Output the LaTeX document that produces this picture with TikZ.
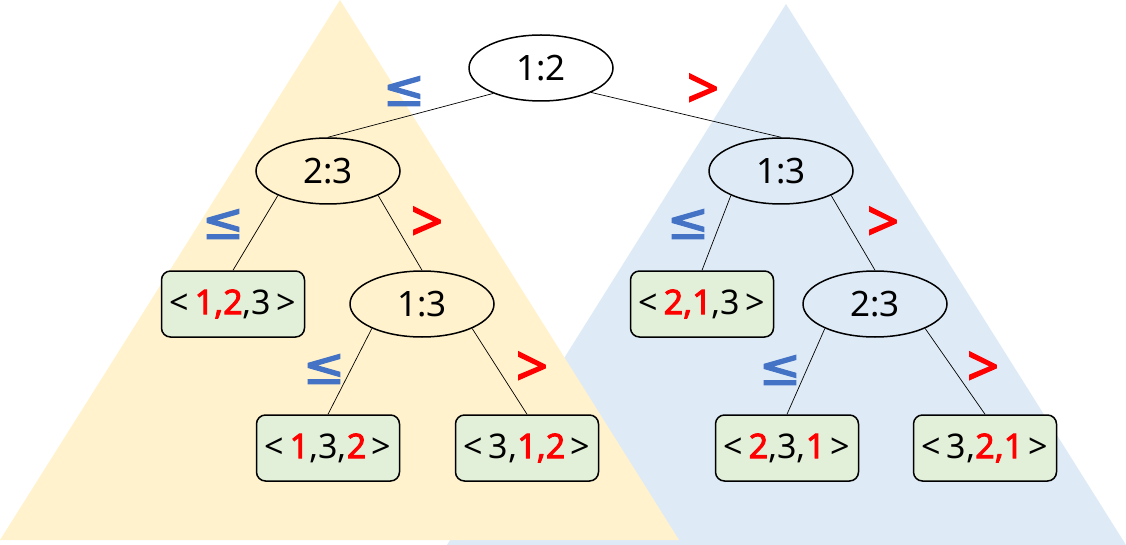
\documentclass[tikz,border=0pt]{standalone}
\usepackage{fontspec}
\setmainfont{Noto Sans}[BoldFont={Noto Sans}, BoldFeatures={FakeBold=2.5}]
\newfontfamily\symfont{DejaVu Sans}[BoldFont={DejaVu Sans}, BoldFeatures={FakeBold=2}]
\usetikzlibrary{shapes.geometric}
\definecolor{triyellow}{HTML}{FFF2CC}
\definecolor{triblue}{HTML}{DEEBF7}
\definecolor{leafgreen}{HTML}{E2F0D9}
\definecolor{leblue}{HTML}{4472C4}
\begin{document}
\begin{tikzpicture}[x=1pt,y=-1pt,
  cmp/.style={ellipse, draw, line width=1.5pt, minimum width=144pt, minimum height=66pt, inner sep=0pt, font=\fontsize{35}{40}\selectfont},
  leaf/.style={rectangle, rounded corners=9pt, draw, line width=1.5pt, fill=leafgreen, minimum width=143pt, minimum height=66pt, inner sep=0pt, font=\fontsize{34}{40}\selectfont},
  edge/.style={line width=0.7pt},
  lelab/.style={text=leblue, inner sep=0pt, font=\symfont\bfseries\fontsize{51}{56}\selectfont},
  gtlab/.style={text=red, inner sep=0pt, font=\bfseries\fontsize{56}{60}\selectfont}]
\newcommand{\rd}[1]{\textcolor{red}{\bfseries #1}}
\useasboundingbox (0,0) rectangle (1126,545);
\fill[triblue] (786,4) -- (447,545) -- (1126,545) -- cycle;
\fill[triyellow] (340,0) -- (0,540) -- (679,540) -- cycle;
% comparison nodes
\node[cmp] (r) at (541,68) {1:2};
\node[cmp] (la) at (328,171) {2:3};
\node[cmp] (ra) at (781,171) {1:3};
\node[cmp] (lb) at (422,304) {1:3};
\node[cmp] (rb) at (875,304) {2:3};
% leaves
\node[leaf] (l123) at (233,304) {<\,\rd{1,2},3\,>};
\node[leaf] (l132) at (328,448) {<\,\rd{1},3,\rd{2}\,>};
\node[leaf] (l312) at (527,448) {<\,3,\rd{1,2}\,>};
\node[leaf] (l213) at (702,304) {<\,\rd{2,1},3\,>};
\node[leaf] (l231) at (787,448) {<\,\rd{2},3,\rd{1}\,>};
\node[leaf] (l321) at (985,448) {<\,3,\rd{2,1}\,>};
% edges
\draw[edge] (r.208) -- (la.north);
\draw[edge] (r.334) -- (ra.north);
\draw[edge] (la.206) -- (l123.north);
\draw[edge] (la.334) -- (lb.north);
\draw[edge] (lb.206) -- (l132.north);
\draw[edge] (lb.334) -- (l312.north);
\draw[edge] (ra.206) -- (l213.north);
\draw[edge] (ra.334) -- (rb.north);
\draw[edge] (rb.206) -- (l231.north);
\draw[edge] (rb.334) -- (l321.north);
% labels
\node[lelab] (le1) at (404,91) {≤};
\node[gtlab] (gt1) at (703,91) {>};
\node[lelab] (le2) at (223,224) {≤};
\node[gtlab] (gt2) at (427,224) {>};
\node[lelab] (le3) at (324,369) {≤};
\node[gtlab] (gt3) at (532,369) {>};
\node[lelab] (le4) at (688,224) {≤};
\node[gtlab] (gt4) at (883,224) {>};
\node[lelab] (le5) at (780,370) {≤};
\node[gtlab] (gt5) at (983,369) {>};
\end{tikzpicture}
\end{document}
